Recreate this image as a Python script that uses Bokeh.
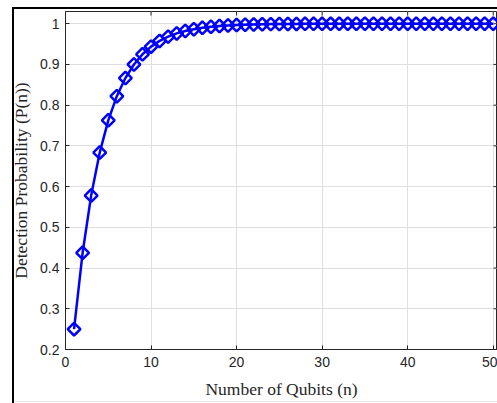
import math
from bokeh.plotting import figure
from bokeh.models import Range1d, FixedTicker
from bokeh.embed import file_html
from bokeh.resources import INLINE

# Data
n_qubits = list(range(1, 51))
detection_prob = [0.25, 0.4375, 0.5781, 0.6836, 0.7627, 0.8220, 0.8665, 0.8999, 0.9249, 0.9437,
                  0.9578, 0.9683, 0.9762, 0.9822, 0.9866, 0.9900, 0.9925, 0.9944, 0.9958, 0.9968,
                  0.9976, 0.9982, 0.9987, 0.9990, 0.9992, 0.9994, 0.9996, 0.9997, 0.9998, 0.9998,
                  0.9999, 0.9999, 0.9999, 0.9999, 1.0, 1.0, 1.0, 1.0, 1.0, 1.0,
                  1.0, 1.0, 1.0, 1.0, 1.0, 1.0, 1.0, 1.0, 1.0, 1.0]
x_ticks = [0, 10, 20, 30, 40, 50]
x_tick_labels = ["0", "10", "20", "30", "40", "50"]
y_ticks = [0.2, 0.3, 0.4, 0.5, 0.6, 0.7, 0.8, 0.9, 1.0]
y_tick_labels = ["0.2", "0.3", "0.4", "0.5", "0.6", "0.7", "0.8", "0.9", "1"]

AX = "#262626"
GRID = "#dfdfdf"
BLUE = "#0000ff"

xr = Range1d(0, 50.5)
yr = Range1d(0.2, 1.03)
p = figure(width=497, height=403, x_range=xr, y_range=yr,
           output_backend="svg", toolbar_location=None,
           min_border_left=65, min_border_right=0, min_border_top=11, min_border_bottom=54)
p.outline_line_color = AX
p.outline_line_width = 1
p.background_fill_color = "white"
p.border_fill_color = None

# outer figure frame (left/top black rules, faint bottom rule) drawn behind the transparent border
p.styles = {
    "background": ("linear-gradient(#000,#000) 12px 7px / 2px 100% no-repeat, "
                   "linear-gradient(#000,#000) 12px 7px / 100% 2px no-repeat, "
                   "linear-gradient(#e6e6e6,#e6e6e6) 14px 401px / 100% 1px no-repeat, white"),
}

p.grid.grid_line_color = GRID
p.xgrid.ticker = FixedTicker(ticks=x_ticks)
p.ygrid.ticker = FixedTicker(ticks=y_ticks)

# box ticks on top and right edges (inward)
p.scatter(x_ticks, [yr.end] * len(x_ticks), marker="dash", angle=math.pi / 2, size=8,
          line_color=AX, line_width=1)
p.scatter([xr.end] * len(y_ticks), y_ticks, marker="dash", size=8,
          line_color=AX, line_width=1)

p.line(n_qubits, detection_prob, line_color=BLUE, line_width=2.5)
p.scatter(n_qubits, detection_prob, marker="square", angle=0.7854, size=9,
          fill_color="white", fill_alpha=0, line_color=BLUE, line_width=2.5)

# bottom / left axes
p.xaxis.ticker = FixedTicker(ticks=x_ticks)
p.xaxis.major_label_overrides = {t: l for t, l in zip(x_ticks, x_tick_labels)}
p.yaxis.ticker = FixedTicker(ticks=y_ticks)
p.yaxis.major_label_overrides = {t: l for t, l in zip(y_ticks, y_tick_labels)}
for ax in (p.xaxis[0], p.yaxis[0]):
    ax.axis_line_color = AX
    ax.major_tick_line_color = AX
    ax.major_tick_in = 4
    ax.major_tick_out = 0
    ax.minor_tick_line_color = None
    ax.major_label_text_font = "Liberation Sans"
    ax.major_label_text_font_size = "14px"
    ax.major_label_text_color = AX
    ax.axis_label_text_font = "Liberation Serif"
    ax.axis_label_text_font_size = "17.5px"
    ax.axis_label_text_font_style = "normal"
    ax.axis_label_text_color = AX
p.xaxis.axis_label = "Number of Qubits (n)"
p.yaxis.axis_label = "Detection Probability (P(n))"
p.xaxis.major_label_standoff = 7
p.yaxis.major_label_standoff = 6
p.xaxis.axis_label_standoff = 9
p.yaxis.axis_label_standoff = 6

open("out.html", "w").write(file_html(p, INLINE))
